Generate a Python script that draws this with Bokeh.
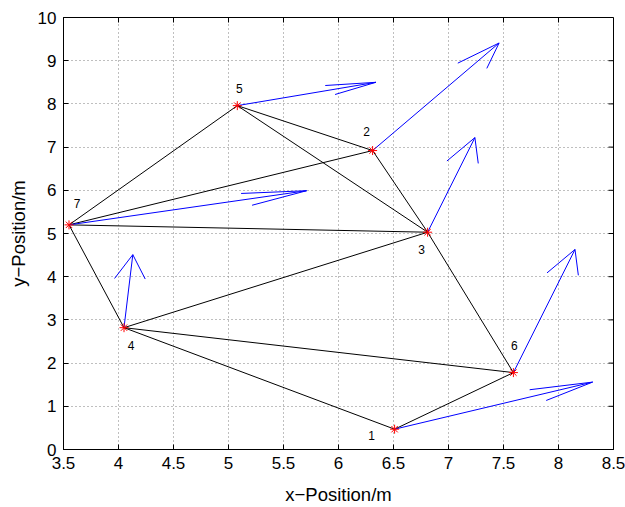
import numpy as np
from bokeh.plotting import figure
from bokeh.models import Range1d, FixedTicker, ColumnDataSource
from bokeh.embed import file_html
from bokeh.resources import INLINE
from bokeh.core.properties import value

# ---- data ----
node_labels = ["1", "2", "3", "4", "5", "6", "7"]
node_x = [6.51, 6.31, 6.81, 4.05, 5.08, 7.59, 3.55]
node_y = [0.47, 6.92, 5.03, 2.82, 7.96, 1.78, 5.20]
# velocity vectors (quiver) at each node
vec_u = [1.80, 1.15, 0.43, 0.08, 1.26, 0.56, 2.16]
vec_v = [1.09, 2.49, 2.19, 1.69, 0.54, 2.85, 0.79]
# connections between nodes (1-based labels)
edges = [(7, 5), (7, 2), (7, 3), (7, 4), (5, 2), (5, 3), (2, 3),
         (3, 4), (3, 6), (4, 6), (4, 1), (1, 6)]
x_ticks = [3.5, 4, 4.5, 5, 5.5, 6, 6.5, 7, 7.5, 8, 8.5]
y_ticks = [0, 1, 2, 3, 4, 5, 6, 7, 8, 9, 10]

# label offsets in screen pixels (dx right, dy up)
label_offsets = [(-23, -6), (-6, 19), (-6, -17), (7, -18), (2, 17), (1, 27), (8, 21)]

FONT = "Liberation Sans"
X0, X1, Y0, Y1 = 3.5, 8.5, 0, 10

p = figure(width=625, height=507, output_backend="svg", toolbar_location=None,
           x_range=Range1d(X0, X1), y_range=Range1d(Y0, Y1),
           min_border_left=63, min_border_right=12, min_border_top=17,
           min_border_bottom=58)
p.background_fill_color = "white"
p.border_fill_color = "white"
p.outline_line_color = "black"
p.outline_line_width = 1

for ax in p.xaxis + p.yaxis:
    ax.major_tick_in = 5
    ax.major_tick_out = 0
    ax.minor_tick_line_color = None
    ax.axis_line_color = "black"
    ax.major_tick_line_color = "black"
    ax.major_label_text_font = FONT
    ax.major_label_text_font_size = "17px"
    ax.major_label_text_color = "black"
    ax.axis_label_text_font = FONT
    ax.axis_label_text_font_size = "18.5px"
    ax.axis_label_text_font_style = "normal"
    ax.axis_label_text_color = "black"

p.xaxis.ticker = FixedTicker(ticks=x_ticks)
p.yaxis.ticker = FixedTicker(ticks=y_ticks)
p.xaxis.major_label_overrides = {t: ("%g" % t) for t in x_ticks}
p.xaxis.axis_label = "x\u2212Position/m"
p.yaxis.axis_label = "y\u2212Position/m"
p.xaxis.major_label_standoff = 7
p.yaxis.major_label_standoff = 7
p.xaxis.axis_label_standoff = 12
p.yaxis.axis_label_standoff = 6

p.xgrid.ticker = FixedTicker(ticks=x_ticks)
p.ygrid.ticker = FixedTicker(ticks=y_ticks)
p.grid.grid_line_color = "#7f7f7f"
p.grid.grid_line_dash = "1 3"
p.grid.grid_line_width = 1

# inward ticks on top and right frame edges
p.ray(x=x_ticks, y=[Y1] * len(x_ticks), length=5, length_units="screen",
      angle=-np.pi / 2, line_color="black", line_width=1)
p.ray(x=[X1] * len(y_ticks), y=y_ticks, length=5, length_units="screen",
      angle=np.pi, line_color="black", line_width=1)

# edges
idx = {lab: i for i, lab in enumerate(node_labels)}
ex = [[node_x[idx[str(a)]], node_x[idx[str(b)]]] for a, b in edges]
ey = [[node_y[idx[str(a)]], node_y[idx[str(b)]]] for a, b in edges]
p.multi_line(ex, ey, line_color="black", line_width=1)

# quiver arrows (MATLAB-like heads)
x = np.array(node_x); y = np.array(node_y)
u = np.array(vec_u); v = np.array(vec_v)
lens = np.hypot(u, v)
alpha = np.minimum(0.33, 0.2 * lens.max() / lens)
beta = 0.25
tx, ty = x + u, y + v
shaft_x = [[a, b] for a, b in zip(x, tx)]
shaft_y = [[a, b] for a, b in zip(y, ty)]
head_x = [[tx[i] - alpha[i] * (u[i] + beta * v[i]), tx[i], tx[i] - alpha[i] * (u[i] - beta * v[i])]
          for i in range(len(x))]
head_y = [[ty[i] - alpha[i] * (v[i] - beta * u[i]), ty[i], ty[i] - alpha[i] * (v[i] + beta * u[i])]
          for i in range(len(x))]
p.multi_line(shaft_x + head_x, shaft_y + head_y, line_color="blue", line_width=1)

# nodes
p.scatter(node_x, node_y, marker="asterisk", size=9, line_color="red", line_width=1)

# labels
src = ColumnDataSource(dict(x=node_x, y=node_y, t=node_labels,
                            dx=[o[0] for o in label_offsets],
                            dy=[-o[1] for o in label_offsets]))
p.text("x", "y", text="t", source=src, x_offset="dx", y_offset="dy",
       text_font=value(FONT), text_font_size="12px", text_color="black",
       text_align="center", text_baseline="middle")

open("out.html", "w").write(file_html(p, INLINE))
